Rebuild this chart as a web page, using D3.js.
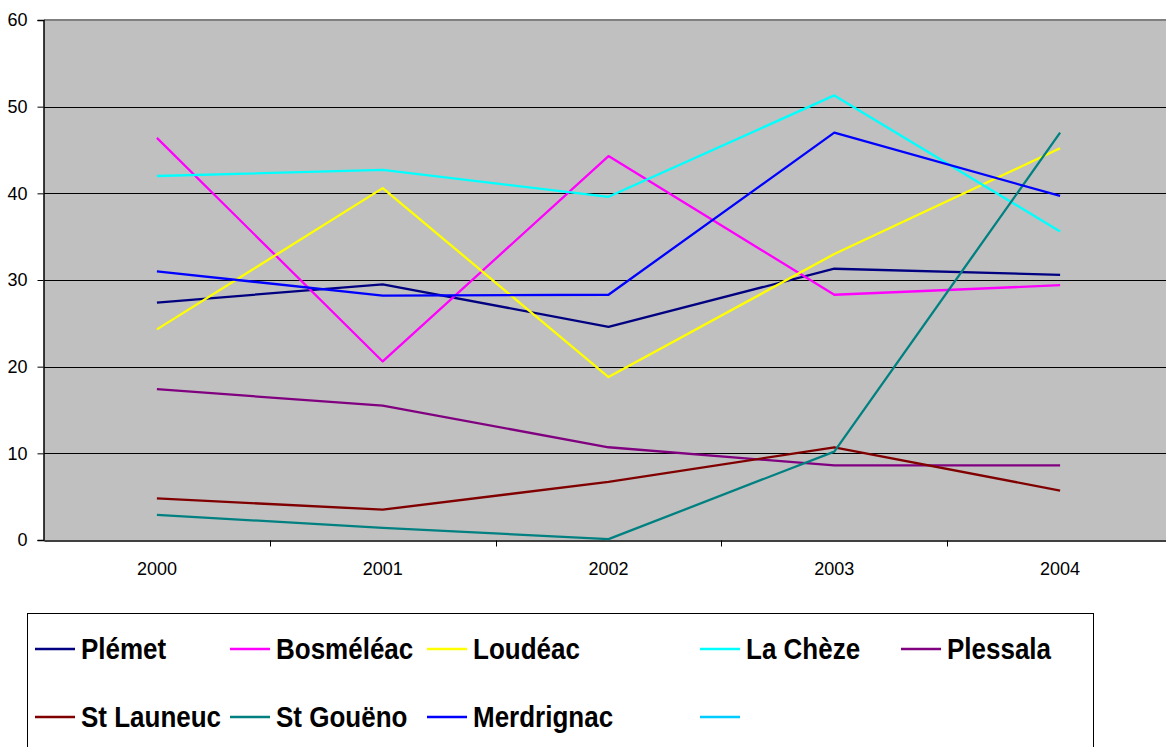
<!DOCTYPE html>
<html>
<head>
<meta charset="utf-8">
<script src="https://cdn.jsdelivr.net/npm/d3@7"></script>
<style>
body { margin: 0; background: #fff; }
svg text { font-family: "Liberation Sans", Arial, sans-serif; }
</style>
</head>
<body>
<div id="chart"></div>
<script>
// data
const years = ["2000", "2001", "2002", "2003", "2004"];
const yTicks = [0, 10, 20, 30, 40, 50, 60];
const names = ["Plémet", "Bosméléac", "Loudéac", "La Chèze", "Plessala",
               "St Launeuc", "St Gouëno", "Merdrignac", ""];
const colors = ["#000080", "#FF00FF", "#FFFF00", "#00FFFF", "#800080",
                "#800000", "#008080", "#0000FF", "#00CCFF"];
const plemet     = [27.4, 29.5, 24.6, 31.3, 30.6];
const bosmeleac  = [46.4, 20.6, 44.3, 28.3, 29.4];
const loudeac    = [24.3, 40.6, 18.8, 33.0, 45.2];
const lacheze    = [42.0, 42.7, 39.6, 51.3, 35.6];
const plessala   = [17.4, 15.5, 10.7, 8.6, 8.6];
const stlauneuc  = [4.8, 3.5, 6.7, 10.7, 5.7];
const stgoueno   = [2.9, 1.4, 0.1, 10.2, 47.0];
const merdrignac = [31.0, 28.2, 28.3, 47.0, 39.7];
const empty      = [];
const series = [plemet, bosmeleac, loudeac, lacheze, plessala,
                stlauneuc, stgoueno, merdrignac, empty];

const W = 1166, H = 747;
const pLeft = 44, pRight = 1173, pTop = 20, pBottom = 540;

var svg = d3.select("#chart")
            .append("svg")
            .attr("width", W)
            .attr("height", H);

const x = d3.scaleBand().domain(years).range([pLeft, pRight]).padding(0);
const y = d3.scaleLinear().domain([0, 60]).range([pBottom, pTop]);
const cx = d => x(d) + x.bandwidth() / 2;

// plot background
svg.append("rect")
    .attr("x", pLeft).attr("y", pTop)
    .attr("width", pRight - pLeft).attr("height", pBottom - pTop)
    .attr("fill", "#C0C0C0");

svg.append("line")
    .attr("x1", pLeft).attr("x2", pRight)
    .attr("y1", pTop).attr("y2", pTop)
    .attr("stroke", "#808080").attr("stroke-width", 2);

// gridlines
svg.append("g")
    .selectAll("line")
    .data(yTicks.filter(t => t > 0 && t < 60))
    .join("line")
    .attr("x1", pLeft).attr("x2", pRight)
    .attr("y1", d => Math.round(y(d)) + 0.5).attr("y2", d => Math.round(y(d)) + 0.5)
    .attr("stroke", "#000").attr("stroke-width", 1);

// y axis
const yAxis = svg.append("g")
    .attr("transform", `translate(${pLeft - 0.5},0)`)
    .call(d3.axisLeft(y).tickValues(yTicks).tickSize(6).tickPadding(10));
yAxis.select(".domain").attr("stroke", "#000").attr("stroke-width", 1.5);
yAxis.selectAll(".tick line").attr("stroke", "#000");
yAxis.selectAll("text").attr("font-size", 18).attr("fill", "#000")
    .attr("font-family", "Liberation Sans, Arial, sans-serif");

// x axis
const xAxis = svg.append("g")
    .attr("transform", `translate(0,${pBottom + 0.5})`)
    .call(d3.axisBottom(x).tickSize(0).tickPadding(22));
xAxis.select(".domain").attr("stroke", "#000").attr("stroke-width", 1.5);
xAxis.selectAll("text").attr("font-size", 18).attr("fill", "#000")
    .attr("font-family", "Liberation Sans, Arial, sans-serif");
xAxis.append("g")
    .selectAll("line")
    .data(years.slice(1))
    .join("line")
    .attr("x1", d => Math.round(x(d)) + 0.5).attr("x2", d => Math.round(x(d)) + 0.5)
    .attr("y1", 0).attr("y2", 6)
    .attr("stroke", "#000");

// lines
const line = d3.line()
    .x((d, i) => cx(years[i]))
    .y(d => y(d));

svg.append("g")
    .selectAll("path")
    .data(series)
    .join("path")
    .attr("d", d => d.length ? line(d) : null)
    .attr("fill", "none")
    .attr("stroke", (d, i) => colors[i])
    .attr("stroke-width", 2.3)
    .attr("stroke-linejoin", "round");

// legend
svg.append("rect")
    .attr("x", 27.5).attr("y", 613.5)
    .attr("width", 1066).attr("height", 160)
    .attr("fill", "#fff")
    .attr("stroke", "#000").attr("stroke-width", 1);

const colX = [35, 230, 427, 700, 901];
const rowY = [649, 717];

const leg = svg.append("g")
    .selectAll("g")
    .data(names)
    .join("g")
    .attr("transform", (d, i) => `translate(${colX[i % 5]},${rowY[Math.floor(i / 5)]})`);

leg.append("line")
    .attr("x1", 0).attr("x2", 40)
    .attr("y1", 0).attr("y2", 0)
    .attr("stroke", (d, i) => colors[i])
    .attr("stroke-width", 2.3);

// text in the reference is a bit stretched vertically
leg.append("text")
    .attr("transform", "translate(46,10) scale(1,1.12)")
    .attr("font-size", 26)
    .attr("font-weight", "bold")
    .attr("fill", "#000")
    .text(d => d);
</script>
</body>
</html>
